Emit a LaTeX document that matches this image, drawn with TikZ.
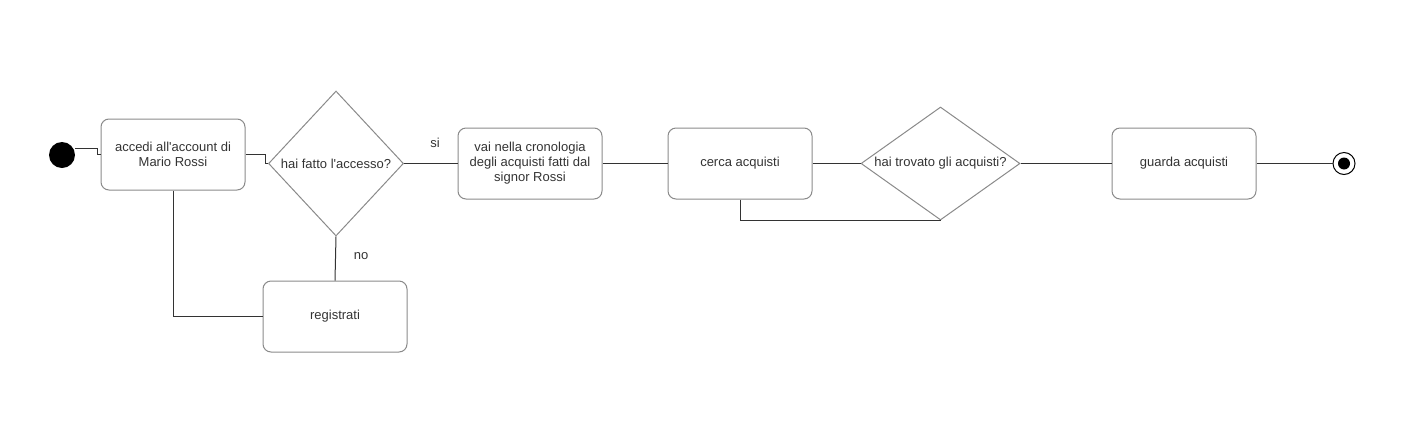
\documentclass[tikz,border=0pt]{standalone}
\usepackage{fontspec}
\setmainfont{Liberation Sans}[Ligatures=TeXOff]
\usetikzlibrary{shapes.geometric}
\definecolor{boxline}{HTML}{8A8A8A}
\definecolor{edgeline}{HTML}{333333}
\definecolor{txt}{HTML}{333333}
\begin{document}
\begin{tikzpicture}[x=1pt,y=-1pt,
  every node/.style={font=\fontsize{13}{15}\selectfont, text=txt},
  actbox/.style={draw=boxline, line width=1pt, rounded corners=8pt, minimum width=144pt, minimum height=71pt, align=center, inner sep=0pt},
  decision/.style={draw=boxline, line width=1pt, diamond, inner sep=0pt},
  conn/.style={draw=edgeline, line width=1pt},
  lbl/.style={inner sep=0pt}]
\useasboundingbox (0,0) rectangle (1421,437);
% start / end
\node[circle, fill=black, minimum size=26pt, inner sep=0pt] (start) at (62,155) {};
\node[circle, draw=black, line width=1pt, minimum size=22pt, inner sep=0pt] (endo) at (1344,163.5) {};
\node[circle, fill=black, minimum size=12pt, inner sep=0pt] (endi) at (1344,163.5) {};
% boxes
\node[actbox] (b1) at (173,154.5) {accedi all'account di\\Mario Rossi};
\node[actbox] (b2) at (530,163.5) {vai nella cronologia\\degli acquisti fatti dal\\signor Rossi};
\node[actbox] (b3) at (740,163.5) {cerca acquisti};
\node[actbox] (b4) at (1184,163.5) {guarda acquisti};
\node[actbox] (b5) at (335,316.5) {registrati};
% decisions
\node[decision, minimum width=135pt, minimum height=145pt] (d1) at (336,163.5) {};
\node[lbl] (d1t) at (d1.center) {hai fatto l'accesso?};
\node[decision, minimum width=159pt, minimum height=113pt] (d2) at (940.5,163.5) {};
\node[lbl] (d2t) at (d2.center) {hai trovato gli acquisti?};
% connectors
\draw[conn] (start.east |- 0,148) -- (97,148) -- (97,154.5) -- (b1.west);
\draw[conn] (b1.east) -- (265,154.5) -- (265,163.5) -- (d1.west);
\draw[conn] (d1.east) -- (b2.west);
\draw[conn] (d1.south) -- (b5.north);
\draw[conn] (b1.south) -- (b1.south |- b5.west) -- (b5.west);
\draw[conn] (b2.east) -- (b3.west);
\draw[conn] (b3.east) -- (d2.west);
\draw[conn] (b3.south) -- (b3.south |- d2.south) -- (d2.south);
\draw[conn] (d2.east) -- (b4.west);
\draw[conn] (b4.east) -- (endo.west);
% labels
\node[lbl] (si) at (435,143) {si};
\node[lbl] (no) at (361,256) {no};
\end{tikzpicture}
\end{document}
